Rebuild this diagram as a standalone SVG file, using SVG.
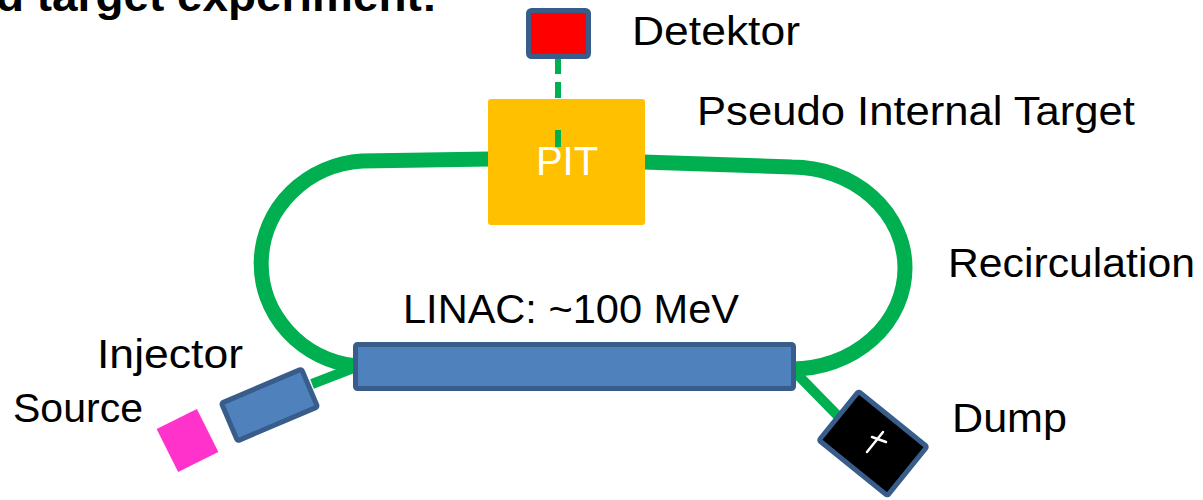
<svg xmlns="http://www.w3.org/2000/svg" width="1203" height="500" viewBox="0 0 1203 500">
  <style>
    .lbl { font-family: "Liberation Sans", Arial, sans-serif; font-size: 41px; fill: #000; }
    .title { font-family: "Liberation Sans", Arial, sans-serif; font-size: 44px; font-weight: bold; fill: #000; }
    .beam { fill: none; stroke: #00B050; stroke-width: 15; }
    .feed { fill: none; stroke: #00B050; stroke-width: 10; }
    .blue { fill: #4F81BD; stroke: #385D8A; stroke-width: 5; }
  </style>
  <rect width="1203" height="500" fill="#fff"/>
  <text class="title" x="-4" y="11" textLength="441" lengthAdjust="spacingAndGlyphs">d target experiment:</text>

  <g id="connectors">
    <path class="beam" d="M 490 159 L 362 161 A 108 103 0 0 0 356 366"/>
    <path class="beam" d="M 643 162 L 792 167 A 113 101 0 0 1 792 369"/>
    <line class="feed" x1="312" y1="384" x2="356" y2="367"/>
    <line class="feed" x1="838" y1="416" x2="792" y2="369"/>
    <line x1="558" y1="58" x2="558" y2="147" stroke="#00B050" stroke-width="6" stroke-dasharray="16 8"/>
  </g>

  <g id="pit">
    <rect x="488" y="99" width="157" height="126" rx="3" fill="#FFC000"/>
    <line x1="558" y1="130" x2="558" y2="147" stroke="#00B050" stroke-width="6"/>
    <text x="567" y="175" text-anchor="middle" font-family="Liberation Sans, Arial, sans-serif" font-size="40" fill="#fff">PIT</text>
  </g>

  <g id="detektor">
    <rect x="528.5" y="10.5" width="60" height="46" rx="3" fill="#FF0000" stroke="#385D8A" stroke-width="5"/>
    <text class="lbl" x="632" y="45" textLength="168" lengthAdjust="spacingAndGlyphs">Detektor</text>
  </g>

  <g id="linac">
    <rect class="blue" x="355.5" y="344.5" width="438" height="44" rx="2"/>
    <text class="lbl" x="403" y="323" textLength="336" lengthAdjust="spacingAndGlyphs">LINAC: ~100 MeV</text>
  </g>

  <g id="injector">
    <rect class="blue" x="-43.5" y="-20.5" width="87" height="41" rx="2" transform="translate(269.5 405) rotate(-23)"/>
    <text class="lbl" x="97" y="368" textLength="146" lengthAdjust="spacingAndGlyphs">Injector</text>
  </g>

  <g id="source">
    <rect x="-22.5" y="-24" width="45" height="48" fill="#FF33CC" transform="translate(187.5 440.5) rotate(-26.6)"/>
    <text class="lbl" x="13" y="422" textLength="130" lengthAdjust="spacingAndGlyphs">Source</text>
  </g>

  <g id="dump">
    <rect x="-44" y="-31.5" width="88" height="63" rx="2" fill="#000" stroke="#385D8A" stroke-width="5" transform="translate(873 443.5) rotate(39)"/>
    <line x1="867" y1="452" x2="883" y2="432" stroke="#fff" stroke-width="2.5" stroke-linecap="round"/>
    <line x1="872" y1="437" x2="886" y2="442" stroke="#fff" stroke-width="2.5" stroke-linecap="round"/>
    <text class="lbl" x="952" y="432" textLength="115" lengthAdjust="spacingAndGlyphs">Dump</text>
  </g>

  <g id="labels">
    <text class="lbl" x="697" y="125" textLength="438" lengthAdjust="spacingAndGlyphs">Pseudo Internal Target</text>
    <text class="lbl" x="948" y="277" textLength="247" lengthAdjust="spacingAndGlyphs">Recirculation</text>
  </g>
</svg>
